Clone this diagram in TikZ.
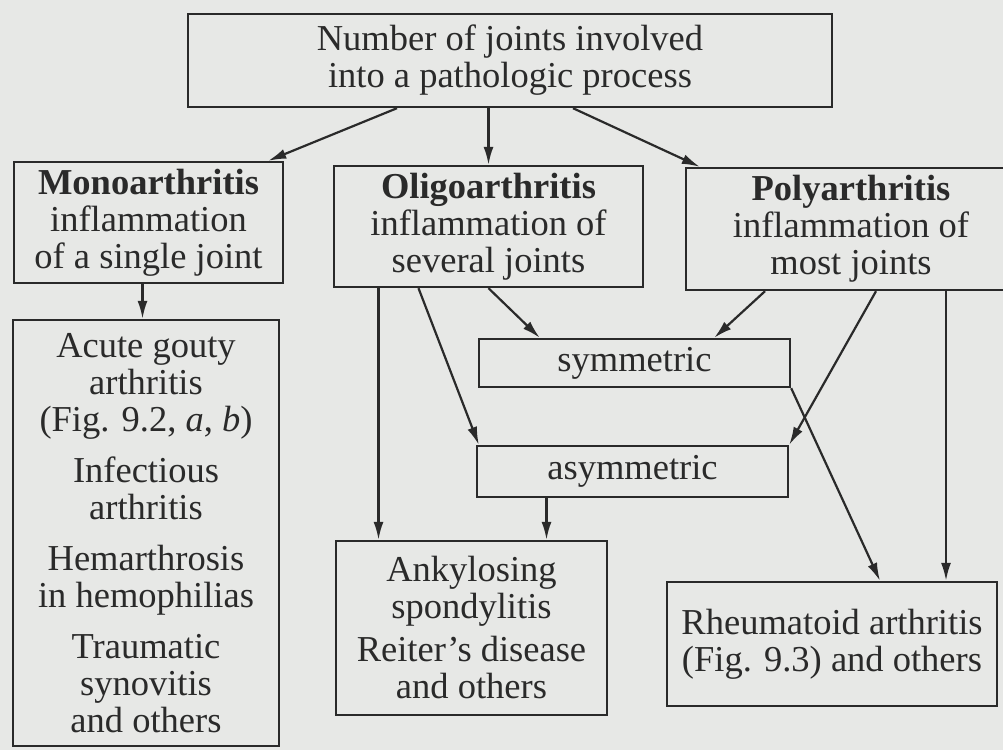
\documentclass[tikz,border=0pt]{standalone}
\usepackage{fontspec}
\setmainfont{Liberation Serif}
\usepackage{xcolor}
\usetikzlibrary{arrows.meta,positioning,calc}
\definecolor{paper}{RGB}{231,232,230}
\definecolor{ink}{RGB}{42,42,42}
\tikzset{
  jbox/.style={draw=ink, line width=2.4pt, align=center, inner sep=0pt, text=ink, font=\fontsize{36.5}{37}\selectfont},
  jline/.style={-{Latex[length=18pt,width=10pt]}, line width=2.2pt, draw=ink}
}

\begin{document}
\begin{tikzpicture}[x=1pt,y=-1pt]
  \fill[paper] (0,0) rectangle (1003,750);
  \useasboundingbox (0,0) rectangle (1003,750);
  \clip (0,0) rectangle (1003,750);

  \node[jbox, minimum width=644pt, minimum height=93pt] (top) at (510,60.5) {Number of joints involved\\into a pathologic process};

  \node[jbox, minimum width=269pt, minimum height=121pt] (mono) at (148.5,222.5) {\textbf{Monoarthritis}\\inflammation\\of a single joint};
  \node[jbox, minimum width=309pt, minimum height=121pt] (oligo) at (488.5,226.5) {\textbf{Oligoarthritis}\\inflammation of\\several joints};
  \node[jbox, minimum width=330pt, minimum height=122pt] (poly) at (851,229) {\textbf{Polyarthritis}\\inflammation of\\most joints};

  \node[jbox, minimum width=266pt, minimum height=426pt] (gout) at (146,533) {Acute gouty\\arthritis\\(Fig. 9.2, \textit{a}, \textit{b})\\[14pt]Infectious\\arthritis\\[14pt]Hemarthrosis\\in hemophilias\\[14pt]Traumatic\\synovitis\\and others};

  \node[jbox, minimum width=311pt, minimum height=48pt] (sym) at (634.5,363) {symmetric};
  \node[jbox, minimum width=311pt, minimum height=51pt] (asym) at (632.5,471.5) {asymmetric};

  \node[jbox, minimum width=271pt, minimum height=174pt] (ank) at (471.5,628) {Ankylosing\\spondylitis\\[6pt]Reiter’s disease\\and others};
  \node[jbox, minimum width=330pt, minimum height=124pt] (rheu) at (832,644) {Rheumatoid arthritis\\(Fig. 9.3) and others};

  % start points on the lower edges
  \coordinate (m1) at ([xshift=-6pt]mono.south);
  \coordinate (o1) at ([xshift=-110pt]oligo.south);
  \coordinate (o2) at ([xshift=-70pt]oligo.south);
  \coordinate (p1) at ([xshift=-86pt]poly.south);
  \coordinate (p2) at ([xshift=25pt]poly.south);
  \coordinate (p3) at ([xshift=95pt]poly.south);
  \coordinate (a1) at ([xshift=-86pt]asym.south);

  \draw[jline] ([xshift=-113pt]top.south) -- ([xshift=-16pt]mono.north east);
  \draw[jline] (oligo.north |- top.south) -- (oligo.north);
  \draw[jline] ([xshift=63pt]top.south) -- ([xshift=15pt]poly.north west);

  \draw[jline] (m1) -- (m1 |- gout.north);

  \draw[jline] (o1) -- (o1 |- ank.north);
  \draw[jline] (o2) -- ([xshift=3pt]asym.north west);
  \draw[jline] (oligo.south) -- ([xshift=62pt]sym.north west);

  \draw[jline] (p1) -- ([xshift=-77pt]sym.north east);
  \draw[jline] (p2) -- (asym.north east);
  \draw[jline] (p3) -- (p3 |- rheu.north);

  \draw[jline] (sym.south east) -- ([xshift=48pt]rheu.north);
  \draw[jline] (a1) -- (a1 |- ank.north);
\end{tikzpicture}
\end{document}
